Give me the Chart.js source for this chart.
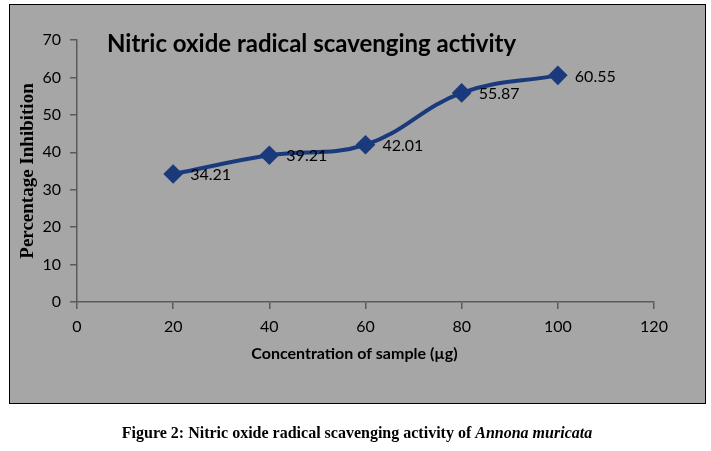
<!DOCTYPE html>
<html><head><meta charset="utf-8">
<script src="https://cdn.jsdelivr.net/npm/chart.js@4.4.1/dist/chart.umd.min.js"></script>
<style>html,body{margin:0;padding:0;background:#fff;}#wrap{width:711px;height:451px;position:relative;}</style>
</head><body><div id="wrap"><canvas id="c" width="711" height="451"></canvas></div>
<script>
const concentrations = [20, 40, 60, 80, 100];
const inhibition = [34.21, 39.21, 42.01, 55.87, 60.55];
const xTicks = [0, 20, 40, 60, 80, 100, 120];
const yTicks = [0, 10, 20, 30, 40, 50, 60, 70];
const chartTitle = 'Nitric oxide radical scavenging activity';
const xTitle = 'Concentration of sample (µg)';
const yTitle = 'Percentage Inhibition';
const captionMain = 'Figure 2: Nitric oxide radical scavenging activity of ';
const captionItalic = 'Annona muricata';

const LINE = '#1B3A7C';
const AXIS = '#5a5a5a';

const decor = {
  id: 'decor',
  beforeDraw(chart) {
    const ctx = chart.ctx;
    ctx.save();
    ctx.fillStyle = '#fff';
    ctx.fillRect(0, 0, chart.width, chart.height);
    ctx.fillStyle = '#A6A6A6';
    ctx.fillRect(9, 4, 697, 400);
    ctx.strokeStyle = '#000';
    ctx.lineWidth = 1;
    ctx.strokeRect(9.5, 4.5, 696, 399);
    ctx.restore();
  },
  afterDatasetsDraw(chart) {
    const ctx = chart.ctx;
    const meta = chart.getDatasetMeta(0);
    ctx.save();
    ctx.font = '16px Lato';
    ctx.fillStyle = '#000';
    ctx.textAlign = 'left';
    ctx.textBaseline = 'middle';
    meta.data.forEach((pt, i) => {
      ctx.fillText(inhibition[i].toFixed(2), pt.x + 17, pt.y + 1);
    });
    ctx.restore();
  },
  afterDraw(chart) {
    const ctx = chart.ctx;
    const a = chart.chartArea;
    ctx.save();
    ctx.fillStyle = '#000';
    // chart title inside plot
    ctx.font = 'bold 24px Lato';
    ctx.textAlign = 'left';
    ctx.textBaseline = 'middle';
    ctx.fillText(chartTitle, a.left + 30, a.top + 4);
    // x axis title
    ctx.font = 'bold 16px Lato';
    ctx.textAlign = 'center';
    ctx.fillText(xTitle, (a.left + a.right) / 2 - 11, 354);
    // caption
    ctx.font = 'bold 16px "Liberation Serif"';
    const w1 = ctx.measureText(captionMain).width;
    ctx.font = 'bold italic 16px "Liberation Serif"';
    const w2 = ctx.measureText(captionItalic).width;
    const x0 = 357 - (w1 + w2) / 2;
    ctx.textAlign = 'left';
    ctx.font = 'bold 16px "Liberation Serif"';
    ctx.fillText(captionMain, x0, 434);
    ctx.font = 'bold italic 16px "Liberation Serif"';
    ctx.fillText(captionItalic, x0 + w1, 434);
    ctx.restore();
  }
};

new Chart(document.getElementById('c'), {
  type: 'line',
  data: {
    datasets: [{
      data: concentrations.map((x, i) => ({ x: x, y: inhibition[i] })),
      borderColor: LINE,
      backgroundColor: LINE,
      borderWidth: 4,
      tension: 0.4,
      pointStyle: 'rectRot',
      pointRadius: 7,
      pointHoverRadius: 7,
      fill: false
    }]
  },
  options: {
    responsive: false,
    devicePixelRatio: 1,
    animation: false,
    layout: { padding: { left: 17, right: 57, top: 40, bottom: 87 } },
    plugins: { legend: { display: false }, tooltip: { enabled: false }, title: { display: false } },
    scales: {
      x: {
        type: 'linear',
        min: 0, max: 120,
        afterBuildTicks(s) { s.ticks = xTicks.map(v => ({ value: v })); },
        afterFit(s) { s.height = 62; },
        ticks: { color: '#000', font: { family: 'Lato', size: 16 }, padding: 8, maxRotation: 0 },
        grid: { display: true, drawOnChartArea: false, tickLength: 7, color: AXIS, lineWidth: 1.5 },
        border: { color: AXIS, width: 1.5 },
        title: { display: false }
      },
      y: {
        min: 0, max: 70,
        afterBuildTicks(s) { s.ticks = yTicks.map(v => ({ value: v })); },
        afterFit(s) { s.width = 60; },
        ticks: { color: '#000', font: { family: 'Lato', size: 16 }, padding: 9 },
        grid: { display: true, drawOnChartArea: false, tickLength: 7, color: AXIS, lineWidth: 1.5 },
        border: { color: AXIS, width: 1.5 },
        title: { display: true, text: yTitle, color: '#000', font: { family: 'Liberation Serif', weight: 'bold', size: 19 }, padding: { top: 0, bottom: 0 } }
      }
    }
  },
  plugins: [decor]
});
</script></body></html>
